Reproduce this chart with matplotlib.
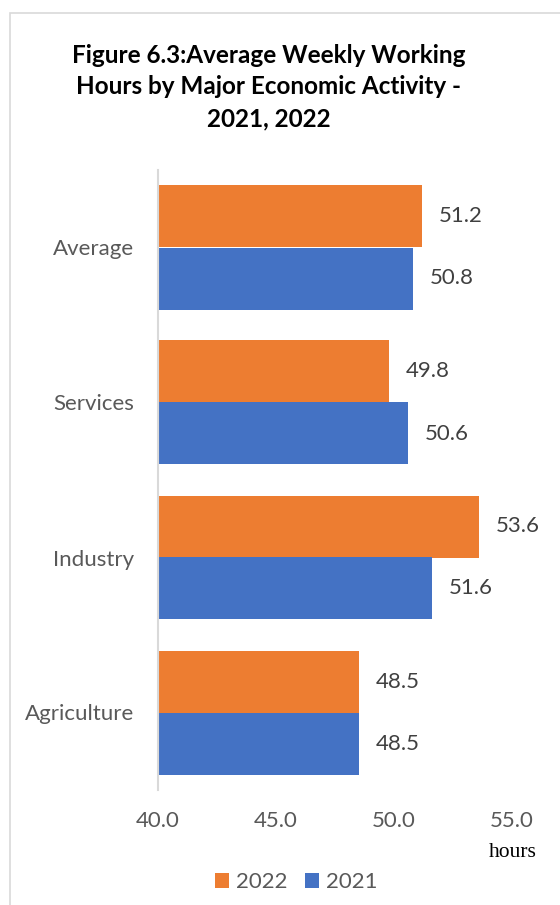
import matplotlib.pyplot as plt
from matplotlib.patches import Rectangle

# data
categories = ['Agriculture', 'Industry', 'Services', 'Average']
hours_2022 = [48.5, 53.6, 49.8, 51.2]
hours_2021 = [48.5, 51.6, 50.6, 50.8]
xticks = [40, 45, 50, 55]

orange = '#ED7D31'
blue = '#4472C4'
txt = '#595959'
lbl = '#404040'
font = 'Lato'

fig = plt.figure(figsize=(5.6, 9.05), dpi=100)
ax = fig.add_axes([158 / 560, 1 - 790 / 905, (512 - 158) / 560, (790 - 170) / 905])

pos = list(range(len(categories)))
b22 = ax.barh([p + 0.2 for p in pos], hours_2022, height=0.4, color=orange, label='2022')
b21 = ax.barh([p - 0.2 for p in pos], hours_2021, height=0.4, color=blue, label='2021')

for bars, vals in ((b22, hours_2022), (b21, hours_2021)):
    for b, v in zip(bars, vals):
        ax.annotate(f'{v:.1f}', (v, b.get_y() + b.get_height() / 2), xytext=(12, 0),
                    textcoords='offset points', va='center', ha='left',
                    fontsize=16, color=lbl, family=font)

ax.set_xlim(40, 55)
ax.set_ylim(-0.5, 3.5)
ax.set_xticks(xticks)
ax.set_xticklabels([f'{t:.1f}' for t in xticks], fontsize=16, color=txt, family=font)
ax.set_yticks(pos)
ax.set_yticklabels(categories, fontsize=16, color=txt, family=font)
ax.tick_params(axis='both', length=0)
ax.tick_params(axis='x', pad=15)
ax.tick_params(axis='y', pad=17)
for s in ['top', 'right', 'bottom']:
    ax.spines[s].set_visible(False)
ax.spines['left'].set_color('#d9d9d9')
ax.spines['left'].set_linewidth(1.5)

fig.text(269 / 560, 1 - 87 / 905,
         'Figure 6.3:Average Weekly Working\nHours by Major Economic Activity -\n2021, 2022',
         ha='center', va='center', fontsize=17.5, fontweight='bold', family=font,
         linespacing=1.45, color='black')

fig.text(513 / 560, 1 - 852 / 905, 'hours', ha='center', va='center',
         fontsize=15.5, family='Liberation Serif', color='black')

fig.legend(handles=[b22, b21], loc='center', bbox_to_anchor=(296 / 560, 1 - 882 / 905),
           ncol=2, frameon=False, handlelength=0.64, handleheight=0.64,
           handletextpad=0.3, columnspacing=0.8,
           prop={'family': font, 'size': 16}, labelcolor=txt)

fig.patches.append(Rectangle((10 / 560, -0.1), 2, 1.1 - 13 / 905, transform=fig.transFigure,
                             fill=False, edgecolor='#d9d9d9', linewidth=1.2, figure=fig))

fig.savefig('out.png', dpi=100)
